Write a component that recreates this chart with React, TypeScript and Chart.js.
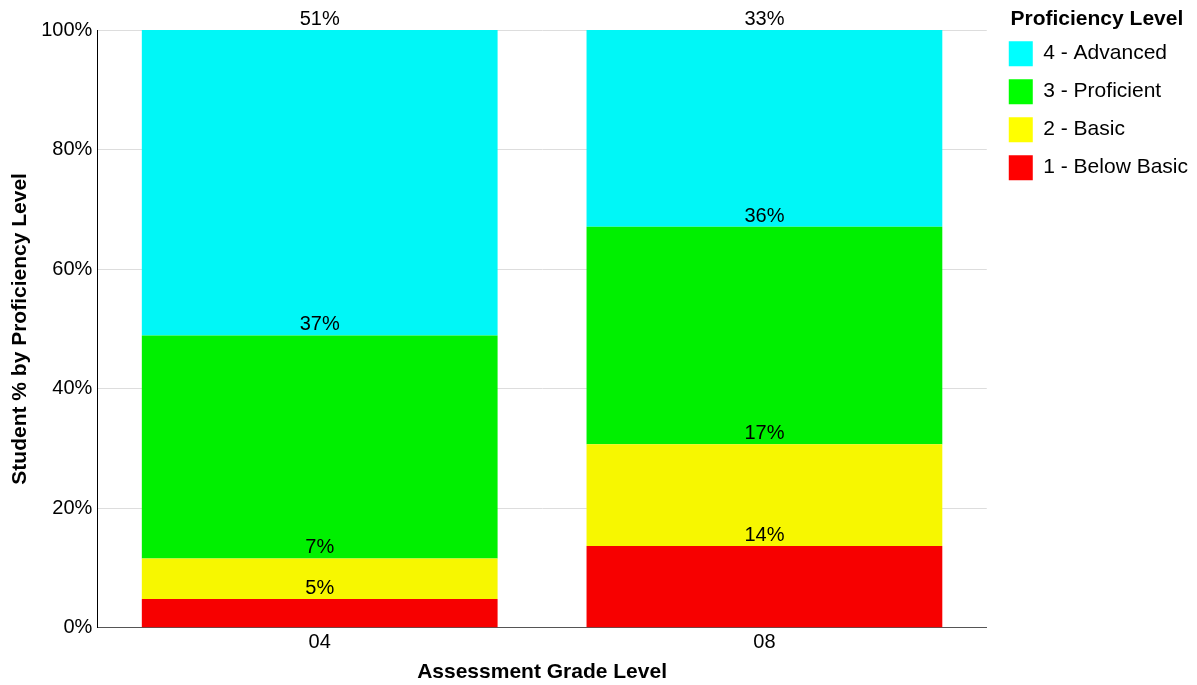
import { useEffect, useRef } from 'react';
import { Chart, registerables } from 'chart.js';

Chart.register(...registerables);

const categories = ['04', '08'];
const levels = ['1 - Below Basic', '2 - Basic', '3 - Proficient', '4 - Advanced'];
const belowBasic = [4.8, 13.7];
const basic = [6.8, 17.0];
const proficient = [37.3, 36.4];
const advanced = [51.1, 32.9];
const yTicks = [0, 20, 40, 60, 80, 100];

const barColors = ['#f70000', '#f7f700', '#00f000', '#00f7f7'];
const legendColors = ['#ff0000', '#ffff00', '#00ff00', '#00ffff'];
const FONT = 'Arial, "Liberation Sans", Helvetica, sans-serif';

const segLabels = {
  id: 'segLabels',
  afterDatasetsDraw(chart: any) {
    const ctx = chart.ctx;
    ctx.save();
    ctx.font = `20px ${FONT}`;
    ctx.fillStyle = '#000';
    ctx.textAlign = 'center';
    ctx.textBaseline = 'alphabetic';
    chart.data.datasets.forEach((ds: any, i: number) => {
      const meta = chart.getDatasetMeta(i);
      meta.data.forEach((bar: any, j: number) => {
        const v = ds.data[j] as number;
        ctx.fillText(Math.round(v) + '%', bar.x, bar.y - 5);
      });
    });
    ctx.restore();
  },
};

const legendShift = {
  id: 'legendShift',
  afterLayout(chart: any) {
    const lg = chart.legend;
    if (!lg) return;
    lg.top -= 21;
    lg.bottom -= 21;
    lg.left += 9;
    lg.right += 9;
  },
};

export default function App() {
  const ref = useRef<HTMLCanvasElement | null>(null);

  useEffect(() => {
    if (!ref.current) return;
    const series = [belowBasic, basic, proficient, advanced];
    const chart = new Chart(ref.current, {
      type: 'bar',
      data: {
        labels: categories,
        datasets: series.map((d, i) => ({
          label: levels[i],
          data: d,
          backgroundColor: barColors[i],
          borderWidth: 0,
          barPercentage: 0.8,
          categoryPercentage: 1,
        })),
      },
      options: {
        animation: false,
        responsive: true,
        maintainAspectRatio: false,
        layout: { padding: { top: 30, left: 0, right: 8, bottom: 0 } },
        plugins: {
          tooltip: { enabled: false },
          legend: {
            position: 'right',
            align: 'start',
            reverse: true,
            title: {
              display: true,
              position: 'center',
              text: 'Proficiency Level',
              color: '#000',
              font: { family: FONT, size: 21, weight: 'bold' },
              padding: { top: 0, bottom: -6 },
            },
            labels: {
              boxWidth: 24,
              boxHeight: 25,
              padding: 13,
              color: '#000',
              font: { family: FONT, size: 21 },
              generateLabels: (chart: any) =>
                chart.data.datasets.map((ds: any, i: number) => ({
                  text: ds.label,
                  fillStyle: legendColors[i],
                  strokeStyle: legendColors[i],
                  lineWidth: 0,
                  hidden: false,
                  datasetIndex: i,
                  fontColor: '#000',
                })),
            },
          },
        },
        scales: {
          x: {
            stacked: true,
            grid: { display: false, drawTicks: false },
            border: { color: '#555', width: 1 },
            ticks: { color: '#000', padding: 3, font: { family: FONT, size: 20 } },
            title: {
              display: true,
              text: 'Assessment Grade Level',
              color: '#000',
              font: { family: FONT, size: 21, weight: 'bold' },
              padding: { top: 2, bottom: 0 },
            },
          },
          y: {
            stacked: true,
            min: 0,
            max: 100,
            afterBuildTicks: (scale: any) => {
              scale.ticks = yTicks.map((v) => ({ value: v }));
            },
            grid: { color: '#dddddd', drawTicks: false },
            border: { color: '#000', width: 1 },
            ticks: {
              color: '#000',
              padding: 5,
              font: { family: FONT, size: 20 },
              callback: (v: any) => v + '%',
            },
            title: {
              display: true,
              text: 'Student % by Proficiency Level',
              color: '#000',
              font: { family: FONT, size: 21, weight: 'bold' },
              padding: { top: 8, bottom: 3 },
            },
          },
        },
      },
      plugins: [segLabels, legendShift],
    });
    return () => chart.destroy();
  }, []);

  return (
    <div style={{ position: 'fixed', left: 0, top: 0, width: 1197, height: 685 }}>
      <canvas ref={ref} />
    </div>
  );
}
